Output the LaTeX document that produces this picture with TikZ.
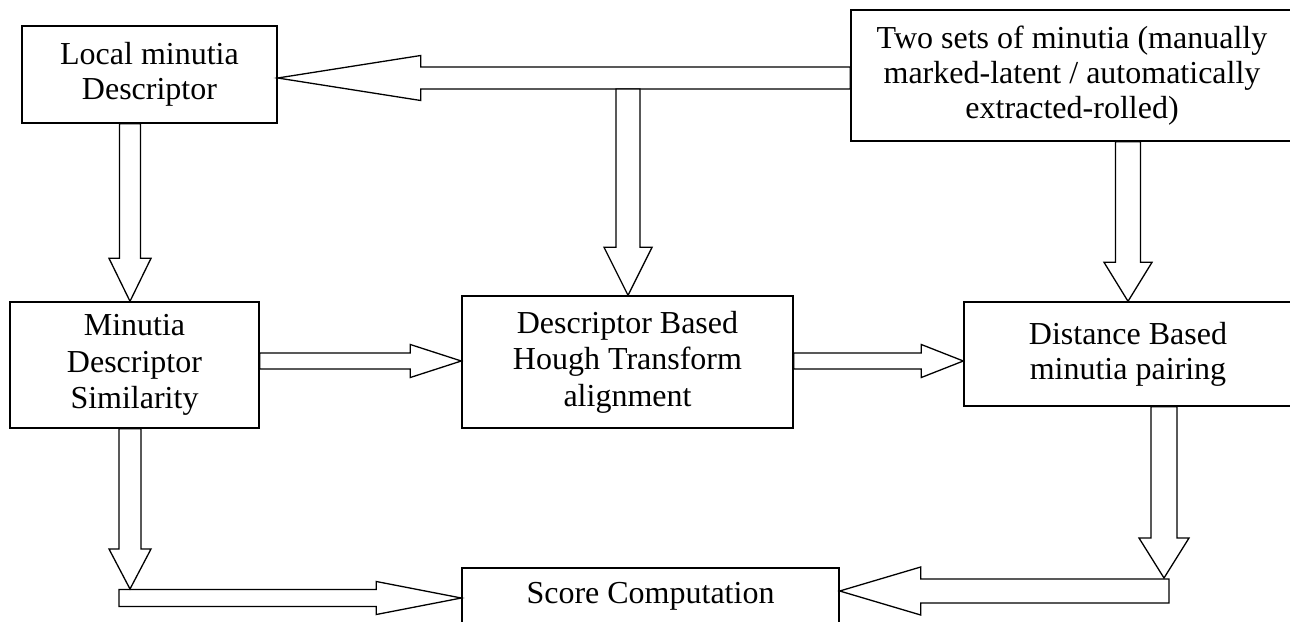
\documentclass[tikz,border=0pt]{standalone}
\usepackage{fontspec}
\setmainfont{Liberation Serif}
\usepackage{tikz}
\usetikzlibrary{calc}

% hollow block arrows: #1 start, #2 tip, #3 shaft half width, #4 head half width, #5 head length
\newcommand{\downblock}[5]{%
  \draw[block arrow] ($(#1)+(-#3,0)$) -- ($(#2)+(-#3,-#5)$) -- ($(#2)+(-#4,-#5)$) -- (#2)
    -- ($(#2)+(#4,-#5)$) -- ($(#2)+(#3,-#5)$) -- ($(#1)+(#3,0)$) -- cycle;}
\newcommand{\rightblock}[5]{%
  \draw[block arrow] ($(#1)+(0,-#3)$) -- ($(#2)+(-#5,-#3)$) -- ($(#2)+(-#5,-#4)$) -- (#2)
    -- ($(#2)+(-#5,#4)$) -- ($(#2)+(-#5,#3)$) -- ($(#1)+(0,#3)$) -- cycle;}
\newcommand{\leftblock}[5]{%
  \draw[block arrow] ($(#1)+(0,-#3)$) -- ($(#2)+(#5,-#3)$) -- ($(#2)+(#5,-#4)$) -- (#2)
    -- ($(#2)+(#5,#4)$) -- ($(#2)+(#5,#3)$) -- ($(#1)+(0,#3)$) -- cycle;}

\begin{document}
\begin{tikzpicture}[x=1pt,y=-1pt,
  box node/.style={draw,line width=1.4pt,fill=white,align=center,inner sep=0pt,
    font=\fontsize{32}{35}\selectfont},
  tall text/.style={font=\fontsize{32}{36.5}\selectfont},
  block arrow/.style={draw,fill=white,line width=1.3pt,line join=miter}]
  \useasboundingbox (0,0) rectangle (1290,621);
  \clip (0,0) rectangle (1290,621);

  \node[box node,minimum width=255pt,minimum height=97pt] (loc) at (149.5,74.5) {Local minutia\\Descriptor};
  \node[box node,minimum width=442pt,minimum height=131pt] (two) at (1072,75.5)
    {Two sets of minutia (manually\\marked-latent / automatically\\extracted-rolled)};
  \node[box node,tall text,minimum width=249pt,minimum height=126pt] (sim) at (134.5,365) {Minutia\\Descriptor\\Similarity};
  \node[box node,tall text,minimum width=331pt,minimum height=132pt] (hough) at (627.5,362)
    {Descriptor Based\\Hough Transform\\alignment};
  \node[box node,minimum width=328pt,minimum height=104pt] (dist) at (1128,354) {Distance Based\\minutia pairing};
  \node[box node,minimum width=377pt,minimum height=56pt] (score) at (650.5,596) {Score Computation};

  % top row
  \leftblock{two.west |- 0,78}{loc.east |- 0,78}{11}{22.5}{143}
  \downblock{628,89}{628,0 |- hough.north}{12}{24}{48}
  \downblock{130,0 |- loc.south}{130,0 |- sim.north}{10.5}{21}{43}
  \downblock{1128,0 |- two.south}{1128,0 |- dist.north}{12.5}{24}{39}

  % middle row
  \rightblock{sim.east |- 0,361}{hough.west |- 0,361}{8}{16.5}{51}
  \rightblock{hough.east |- 0,361}{dist.west |- 0,361}{8}{16.5}{42}

  % into score
  \rightblock{119,598}{score.west |- 0,598}{8.5}{16.5}{85}
  \downblock{130,0 |- sim.south}{130,589}{11}{21}{40}
  \leftblock{1169,591}{score.east |- 0,591}{12}{24}{81}
  \downblock{1164,0 |- dist.south}{1164,578}{13}{25}{40}
\end{tikzpicture}
\end{document}
